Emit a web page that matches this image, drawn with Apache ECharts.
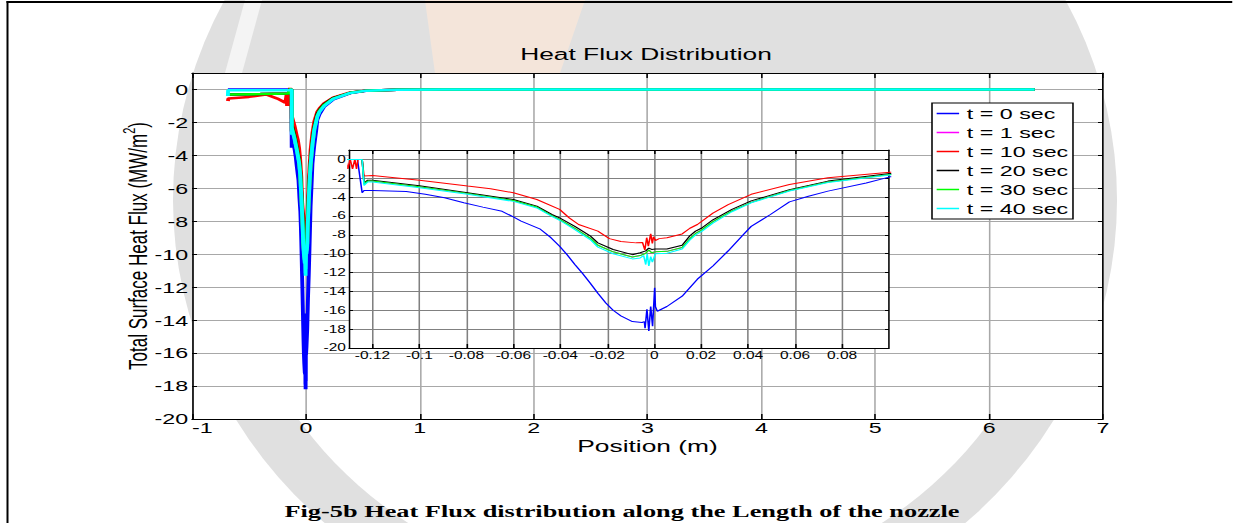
<!DOCTYPE html>
<html>
<head>
<meta charset="utf-8">
<script src="https://cdn.jsdelivr.net/npm/echarts@6/dist/echarts.min.js"></script>
<style>
  html, body { margin: 0; padding: 0; background: #fff; overflow: hidden; width: 1233px; height: 523px; }
  #chart { position: absolute; left: 0; top: 0; height: 523px; transform-origin: 0 0; }
</style>
</head>
<body>
<div id="chart"></div>
<script>
// Heat flux along the nozzle wall, position x (m) vs total surface heat flux (MW/m^2)
// Each trace is a list of [position, flux] pairs.

const fluxT0 = [
  [-0.685, 0], [-0.3, 0], [-0.1264, 0],
  [-0.1244, -3.54], [-0.1236, -3.3], [-0.12, -3.3], [-0.1056, -3.4], [-0.0975, -3.7],
  [-0.0893, -4.07], [-0.0811, -4.6], [-0.073, -5.06], [-0.0648, -5.5], [-0.06, -6.1],
  [-0.0567, -6.55], [-0.0485, -7.4], [-0.044, -8.3], [-0.0403, -9.2], [-0.0371, -10.1],
  [-0.0338, -11.15], [-0.0305, -12.1], [-0.0273, -13.1], [-0.024, -14.2], [-0.0207, -15.2],
  [-0.0175, -16.0], [-0.0142, -16.6], [-0.0093, -17.2], [-0.0052, -17.3], [-0.0042, -17.2],
  [-0.0039, -17.9], [-0.0031, -15.9], [-0.0023, -18.2], [-0.0015, -15.6], [-0.0007, -17.7],
  [0.0002, -13.6], [0.0005, -15.6], [0.0013, -16.1], [0.0054, -15.6], [0.0119, -14.5],
  [0.0184, -12.7], [0.025, -11.3], [0.0315, -9.7], [0.038, -7.96], [0.0413, -7.1],
  [0.0495, -5.84], [0.0576, -4.5], [0.0657, -3.9], [0.074, -3.36], [0.0903, -2.5], [0.1004, -1.85],
  [0.12, -1.5], [0.16, -1.05], [0.24, -0.6], [0.39, -0.22], [0.53, -0.08], [0.8, -0.02],
  [1.2, 0], [6.4, 0]
];

const fluxT10 = [
  [-0.685, -0.7], [-0.68, -0.55], [-0.5, -0.45], [-0.35, -0.3], [-0.25, -0.55], [-0.18, -0.8],
  [-0.17, -0.35], [-0.165, -1.0], [-0.16, -0.3], [-0.155, -1.0], [-0.15, -0.3], [-0.145, -1.0],
  [-0.14, 0.1], [-0.135, -1.0], [-0.1315, 0], [-0.1305, -1.0], [-0.1295, 0], [-0.1285, -1.0],
  [-0.1275, 0], [-0.1268, -1.0], [-0.1262, 0], [-0.1244, 0],
  [-0.1236, -1.77], [-0.12, -1.7], [-0.1, -2.2], [-0.0795, -2.83], [-0.0697, -3.1],
  [-0.06, -3.54], [-0.05, -4.25], [-0.0403, -5.3], [-0.0362, -6.2], [-0.0322, -6.9],
  [-0.024, -7.6], [-0.0191, -8.4], [-0.0142, -8.7], [-0.0077, -8.85], [-0.005, -8.8],
  [-0.004, -9.6], [-0.0032, -8.3], [-0.0025, -9.2], [-0.0015, -7.9], [-0.0008, -8.9],
  [-0.0003, -8.2], [0.0005, -8.6], [0.0021, -8.4], [0.0054, -8.3], [0.0119, -7.9],
  [0.0152, -7.3], [0.0184, -6.9], [0.025, -5.7], [0.0315, -4.8], [0.0413, -3.7],
  [0.0576, -2.65], [0.074, -1.95], [0.1004, -1.35],
  [0.12, -1.15], [0.16, -0.85], [0.24, -0.5], [0.39, -0.18], [0.53, -0.07], [0.8, -0.02],
  [1.2, 0], [6.4, 0]
];

const fluxT20 = [
  [-0.685, -0.3], [-0.4, -0.28], [-0.15, -0.25], [-0.145, 0], [-0.1244, 0],
  [-0.1236, -2.5], [-0.122, -2.2], [-0.12, -2.2], [-0.1, -2.8], [-0.0795, -3.54],
  [-0.06, -4.25], [-0.05, -4.95], [-0.0436, -5.84], [-0.0403, -6.2], [-0.0338, -7.1],
  [-0.0273, -8.1], [-0.024, -8.85], [-0.0175, -9.55], [-0.0093, -10.1], [-0.006, -9.9],
  [-0.0036, -9.7], [-0.0023, -9.4], [-0.0011, -9.55], [0.0005, -9.5], [0.0054, -9.5],
  [0.0119, -9.1], [0.0152, -8.1], [0.0176, -7.6], [0.0201, -7.3], [0.025, -6.4],
  [0.0331, -5.3], [0.0413, -4.4], [0.0576, -3.2], [0.074, -2.3], [0.1004, -1.5],
  [0.12, -1.25], [0.16, -0.9], [0.24, -0.53], [0.39, -0.2], [0.53, -0.07], [0.8, -0.02],
  [1.2, 0], [6.4, 0]
];

const fluxT30 = [
  [-0.685, -0.3], [-0.4, -0.28], [-0.15, -0.25], [-0.145, 0], [-0.1244, 0],
  [-0.1236, -2.6], [-0.122, -2.3], [-0.12, -2.3], [-0.1, -2.9], [-0.0795, -3.6],
  [-0.06, -4.35], [-0.05, -5.05], [-0.0436, -5.95], [-0.0403, -6.35], [-0.0338, -7.3],
  [-0.0273, -8.35], [-0.024, -9.1], [-0.0175, -9.8], [-0.0093, -10.35], [-0.006, -10.2],
  [-0.0036, -9.95], [-0.0023, -9.6], [-0.0011, -9.9], [0.0005, -9.8], [0.0054, -9.75],
  [0.0119, -9.35], [0.0152, -8.4], [0.0176, -7.85], [0.0201, -7.5], [0.025, -6.6],
  [0.0331, -5.45], [0.0413, -4.55], [0.0576, -3.3], [0.074, -2.4], [0.1004, -1.6],
  [0.12, -1.3], [0.16, -0.95], [0.24, -0.55], [0.39, -0.2], [0.53, -0.07], [0.8, -0.02],
  [1.2, 0], [6.4, 0]
];

// the t = 1 s trace runs underneath the t = 30 s trace
const fluxT1 = fluxT30;

const fluxT40 = [
  [-0.685, -0.4], [-0.683, -0.05], [-0.4, -0.05], [-0.15, -0.05], [-0.1244, 0],
  [-0.1236, -2.75], [-0.122, -2.4], [-0.12, -2.4], [-0.1, -3.0], [-0.0795, -3.7],
  [-0.06, -4.45], [-0.05, -5.15], [-0.0436, -6.05], [-0.0403, -6.45], [-0.0338, -7.45],
  [-0.0273, -8.5], [-0.024, -9.3], [-0.0175, -10.0], [-0.0093, -10.55], [-0.006, -10.45],
  [-0.0045, -10.2], [-0.0036, -11.15], [-0.003, -10.0], [-0.0023, -11.3], [-0.0015, -10.3],
  [-0.0008, -10.9], [0.0005, -10.0], [0.0054, -9.95], [0.0119, -9.5], [0.0152, -8.55],
  [0.0176, -8.0], [0.0201, -7.65], [0.025, -6.75], [0.0331, -5.55], [0.0413, -4.6],
  [0.0576, -3.35], [0.074, -2.45], [0.1004, -1.65],
  [0.12, -1.35], [0.16, -1.0], [0.24, -0.57], [0.39, -0.21], [0.53, -0.07], [0.8, -0.02],
  [1.2, 0], [6.4, 0]
];

const seriesNames = ['t = 0 sec', 't = 1 sec', 't = 10 sec', 't = 20 sec', 't = 30 sec', 't = 40 sec'];
const seriesColors = ['#0000ff', '#ff00ff', '#ff0000', '#000000', '#00ff00', '#00ffff'];
const seriesData = [fluxT0, fluxT1, fluxT10, fluxT20, fluxT30, fluxT40];

// zoomed window around the throat
const insetXTicks = [-0.12, -0.1, -0.08, -0.06, -0.04, -0.02, 0, 0.02, 0.04, 0.06, 0.08];

const titleText = 'Heat Flux Distribution';
const xAxisTitle = 'Position (m)';
const yAxisTitle = 'Total Surface Heat Flux (MW/m{sup|2})';
const captionText = 'Fig-5b Heat Flux distribution along the Length of the nozzle';

// the figure is laid out on a narrower canvas, then widened horizontally
const STRETCH = 1.55;
const PAGE_W = 1233, PAGE_H = 523;
const W0 = PAGE_W / STRETCH;
const sx = v => v / STRETCH;

const dom = document.getElementById('chart');
dom.style.width = W0 + 'px';
dom.style.transform = 'scaleX(' + STRETCH + ')';

const FONT = 'Liberation Sans';
const GRID_LINE = { color: '#a8a8a8', width: 1 };
const INSET_GRID_LINE = { color: '#808080', width: 1 };
const BLACK = { color: '#000', width: 1 };

// faint page emblem behind the figure (page pixels -> layout units)
function ellipsePoints(cx, cy, rx, ry, a0, a1, n) {
  const pts = [];
  for (let k = 0; k <= n; k++) {
    const a = a0 + (a1 - a0) * k / n;
    pts.push([sx(cx + rx * Math.cos(a)), cy + ry * Math.sin(a)]);
  }
  return pts;
}
const emblemOuter = ellipsePoints(645, 200, 472, 440, 0, Math.PI * 2, 120);
const emblemInner = ellipsePoints(645, 200, 418, 392, Math.PI * 0.12, Math.PI * 0.88, 60);

function boxAxis(extra) {
  return Object.assign({
    type: 'value',
    nameMoveOverlap: false,
    axisLine: { show: true, onZero: false, lineStyle: BLACK },
    axisTick: { show: true, inside: true, lineStyle: BLACK },
    axisLabel: { show: false },
    splitLine: { show: false }
  }, extra);
}

const option = {
  animation: false,
  backgroundColor: 'transparent',
  title: [
    {
      text: titleText, left: sx(646), top: 46, textAlign: 'center', padding: 0,
      textStyle: { fontFamily: FONT, fontSize: 17, fontWeight: 'normal', color: '#000' }
    },
    {
      text: captionText, left: sx(622), top: 503, textAlign: 'center', padding: 0,
      textStyle: { fontFamily: 'Liberation Serif', fontSize: 17, fontWeight: 'bold', color: '#000' }
    }
  ],
  legend: {
    data: seriesNames,
    orient: 'vertical',
    left: sx(932), top: 103,
    icon: 'rect', itemWidth: 14.5, itemHeight: 1.5, itemGap: 4,
    padding: [3, 3, 3, 3],
    backgroundColor: '#fff', borderColor: '#000', borderWidth: 1,
    selectedMode: false,
    textStyle: { fontFamily: FONT, fontSize: 15, lineHeight: 15, color: '#000' },
    z: 10
  },
  grid: [
    { left: sx(192), top: 73, width: sx(911), height: 346, show: true,
      backgroundColor: '#fff', borderWidth: 0, z: 0 },
    { left: sx(349), top: 150, width: sx(540), height: 198, show: true,
      backgroundColor: '#fff', borderWidth: 0, z: 3 }
  ],
  xAxis: [
    boxAxis({
      gridIndex: 0, position: 'bottom', min: -1, max: 7, interval: 1, z: 1,
      axisTick: { show: true, inside: true, length: 5, lineStyle: BLACK },
      axisLabel: { show: true, color: '#000', fontFamily: FONT, fontSize: 15, margin: 1, alignMinLabel: 'left' },
      splitLine: { show: true, lineStyle: GRID_LINE },
      name: xAxisTitle, nameLocation: 'middle', nameGap: 19,
      nameTextStyle: { fontFamily: FONT, fontSize: 17, color: '#000' }
    }),
    boxAxis({
      gridIndex: 0, position: 'top', min: -1, max: 7, interval: 1, z: 1,
      axisTick: { show: true, inside: true, length: 5, lineStyle: BLACK }
    }),
    boxAxis({
      gridIndex: 1, position: 'bottom', min: -0.13, max: 0.1, z: 4,
      axisTick: { show: true, inside: true, length: 4, lineStyle: BLACK, customValues: insetXTicks },
      axisLabel: { show: true, color: '#000', fontFamily: FONT, fontSize: 10, margin: 3, customValues: insetXTicks },
      splitLine: { show: true, lineStyle: INSET_GRID_LINE }
    }),
    boxAxis({
      gridIndex: 1, position: 'top', min: -0.13, max: 0.1, z: 4,
      axisTick: { show: true, inside: true, length: 4, lineStyle: BLACK, customValues: insetXTicks }
    })
  ],
  yAxis: [
    boxAxis({
      gridIndex: 0, position: 'left', min: -20, max: 1, interval: 2, z: 1,
      axisTick: { show: true, inside: true, length: sx(5), lineStyle: BLACK },
      axisLabel: { show: true, color: '#000', fontFamily: FONT, fontSize: 15, margin: 2.5, showMaxLabel: false },
      splitLine: { show: true, lineStyle: GRID_LINE },
      name: yAxisTitle, nameLocation: 'middle', nameGap: 24, nameRotate: 90,
      nameTextStyle: {
        fontFamily: FONT, fontSize: 17, color: '#000', lineHeight: 22,
        rich: { sup: { fontFamily: FONT, fontSize: 11, color: '#000', verticalAlign: 'top', lineHeight: 22 } }
      }
    }),
    boxAxis({
      gridIndex: 0, position: 'right', min: -20, max: 1, interval: 2, z: 1,
      axisTick: { show: true, inside: true, length: sx(5), lineStyle: BLACK }
    }),
    boxAxis({
      gridIndex: 1, position: 'left', min: -20, max: 1, interval: 2, z: 4,
      axisTick: { show: true, inside: true, length: sx(4), lineStyle: BLACK },
      axisLabel: { show: true, color: '#000', fontFamily: FONT, fontSize: 10, margin: 2, showMaxLabel: false },
      splitLine: { show: true, lineStyle: INSET_GRID_LINE }
    }),
    boxAxis({
      gridIndex: 1, position: 'right', min: -20, max: 1, interval: 2, z: 4,
      axisTick: { show: true, inside: true, length: sx(4), lineStyle: BLACK }
    })
  ],
  series: [],
  graphic: [
    {
      type: 'polygon', silent: true, z: -10,
      shape: { points: emblemOuter },
      style: { fill: '#e0e0e0', stroke: null }
    },
    {
      type: 'polygon', silent: true, z: -9,
      shape: { points: emblemInner },
      style: { fill: '#ffffff', stroke: null }
    },
    {
      type: 'polygon', silent: true, z: -8,
      shape: { points: [[sx(425), 0], [sx(585), 0], [sx(560), 73], [sx(435), 73]] },
      style: { fill: '#f4e5da', stroke: null }
    },
    {
      type: 'polygon', silent: true, z: -8,
      shape: { points: [[sx(245), 0], [sx(262), 0], [sx(242), 73], [sx(225), 73]] },
      style: { fill: '#f4f4f4', stroke: null }
    },
    // page frame: top rule and left rule
    {
      type: 'rect', silent: true, z: 20,
      shape: { x: sx(6.5), y: 1, width: sx(1300), height: 2 },
      style: { fill: '#000', stroke: null }
    },
    {
      type: 'rect', silent: true, z: 20,
      shape: { x: sx(6.5), y: 1, width: sx(2), height: 600 },
      style: { fill: '#000', stroke: null }
    }
  ]
};

seriesData.forEach((data, i) => {
  option.series.push({
    name: seriesNames[i], type: 'line', xAxisIndex: 0, yAxisIndex: 0,
    data: data, symbol: 'none', showSymbol: false, clip: true, z: 2,
    color: seriesColors[i],
    lineStyle: { color: seriesColors[i], width: 2.5 }
  });
});
seriesData.forEach((data, i) => {
  option.series.push({
    name: seriesNames[i], type: 'line', xAxisIndex: 2, yAxisIndex: 2,
    data: data, symbol: 'none', showSymbol: false, clip: true, z: 5,
    color: seriesColors[i],
    lineStyle: { color: seriesColors[i], width: 1 }
  });
});

const chart = echarts.init(dom, null, { renderer: 'svg', width: W0, height: PAGE_H });
chart.setOption(option);
</script>
</body>
</html>
